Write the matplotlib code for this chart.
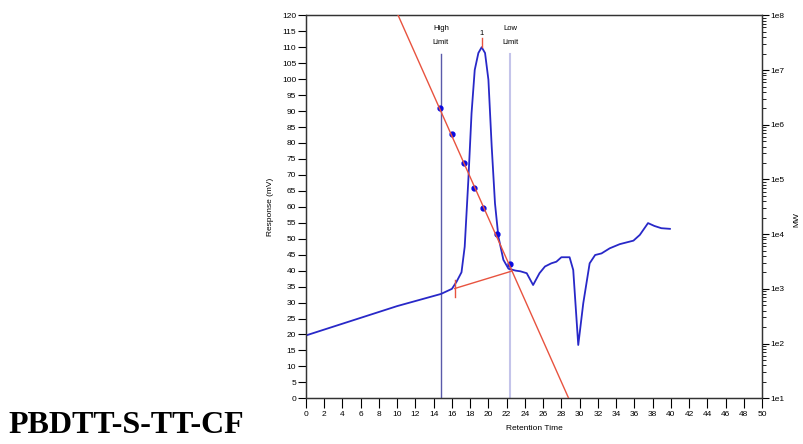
import matplotlib
matplotlib.use("Agg")
import matplotlib.pyplot as plt
import matplotlib.ticker as mticker
import numpy as np

# ---- data ----
sig_t = [0, 5, 10, 14.8, 16.0, 16.5, 17.05, 17.4, 17.8, 18.15, 18.5, 18.9,
         19.26, 19.63, 20.0, 20.36, 20.72, 21.09, 21.64, 22.2, 23.0, 23.5,
         24.2, 24.9, 25.6, 26.2, 26.9, 27.45, 28.0, 28.9, 29.3, 29.85, 30.4, 31.1,
         31.7, 32.4, 33.3, 34.4, 35.9, 36.6, 37.5, 38.2, 38.96, 39.9]
sig_mv = [19.7, 24.3, 28.9, 32.7, 34.3, 36.5, 39.5, 47.5, 68.4, 89.3, 102.9, 108.2,
          110.0, 108.2, 99.8, 78.9, 61.1, 50.7, 43.4, 40.6, 40.0, 39.8,
          39.2, 35.5, 39.2, 41.3, 42.3, 42.8, 44.2, 44.2, 40.2, 16.7, 29.8, 42.3,
          44.9, 45.4, 47.0, 48.3, 49.4, 51.2, 54.9, 54.0, 53.3, 53.1]

cal_pts_t = [14.73, 15.97, 17.32, 18.42, 19.4, 20.94, 22.37]
cal_pts_mv = [90.9, 82.7, 73.6, 65.8, 59.6, 51.5, 42.0]

cal_line_t = [10.1, 28.8]
cal_line_mw = [1e8, 1e1]

base_t = [16.3, 22.5]
base_mv = [34.4, 39.8]

high_limit = 14.8
low_limit = 22.37
peak_t = 19.26
peak_mv = 110.0

xticks = list(range(0, 51, 2))
yticks = list(range(0, 121, 5))
mw_ticks = [1e1, 1e2, 1e3, 1e4, 1e5, 1e6, 1e7, 1e8]
mw_labels = ["1e1", "1e2", "1e3", "1e4", "1e5", "1e6", "1e7", "1e8"]

# ---- figure ----
fig = plt.figure(figsize=(8.04, 4.44), dpi=100)
ax = fig.add_axes([0.3806, 0.1029, 0.5672, 0.8626])
ax2 = ax.twinx()

tick_font = dict(family=["Liberation Sans", "DejaVu Sans"], size=6)

ax.set_xlim(0, 50)
ax.set_ylim(0, 120)
ax2.set_yscale("log")
ax2.set_ylim(1e1, 1e8)

# limits
ax.plot([high_limit, high_limit], [0, 108], color="#5a5aaa", lw=1.0, zorder=2)
ax.plot([low_limit, low_limit], [0, 108], color="#c4c4ea", lw=1.5, zorder=2)

# calibration line (on MW axis)
ax2.plot(cal_line_t, cal_line_mw, color="#e8533f", lw=1.0, zorder=3, clip_on=True)

# signal
ax.plot(sig_t, sig_mv, color="#2828c8", lw=1.3, zorder=4)

# baseline
ax.plot(base_t, base_mv, color="#e8533f", lw=1.0, zorder=5)
ax.plot([base_t[0], base_t[0]], [base_mv[0] - 2.8, base_mv[0] + 2.8], color="#e8533f", lw=1.0, zorder=5)
ax.plot([peak_t, peak_t], [peak_mv, peak_mv + 3], color="#e8533f", lw=1.0, zorder=5)

# calibration points
ax.plot(cal_pts_t, cal_pts_mv, "o", color="#0a0ae0", ms=3.5, zorder=6)

# annotations
txt = dict(family=["Liberation Sans", "DejaVu Sans"], size=5.5, ha="center", va="center")
ax.text(high_limit, 115.8, "High", **txt)
ax.text(high_limit, 111.4, "Limit", **txt)
ax.text(low_limit, 115.8, "Low", **txt)
ax.text(low_limit, 111.4, "Limit", **txt)
ax.text(peak_t, 114.2, "1", **txt)

# ticks
ax.set_xticks(xticks)
ax.set_yticks(yticks)
ax.set_xticklabels([str(v) for v in xticks], **tick_font)
ax.set_yticklabels([str(v) for v in yticks], **tick_font)
ax.tick_params(axis="x", direction="out", length=7, width=0.8, pad=2)
ax.tick_params(axis="y", direction="out", length=6, width=0.8, pad=1)

ax2.yaxis.set_major_locator(mticker.FixedLocator(mw_ticks))
ax2.yaxis.set_major_formatter(mticker.FixedFormatter(mw_labels))
ax2.yaxis.set_minor_locator(mticker.LogLocator(base=10, subs=np.arange(2, 10)))
ax2.yaxis.set_minor_formatter(mticker.NullFormatter())
for lab in ax2.get_yticklabels():
    lab.set_family(["Liberation Sans", "DejaVu Sans"])
    lab.set_size(6)
ax2.tick_params(axis="y", which="major", direction="out", length=5, width=0.8, pad=1)
ax2.tick_params(axis="y", which="minor", direction="out", length=3, width=0.6)

for a in (ax, ax2):
    for s in a.spines.values():
        s.set_linewidth(0.9)
        s.set_color("#333333")

lab_font = dict(family=["Liberation Sans", "DejaVu Sans"], size=6)
ax.set_ylabel("Response (mV)", labelpad=6, **lab_font)
ax.set_xlabel("Retention Time", labelpad=5, **lab_font)
fig.text(0.995, 0.505, "MW", rotation=90, ha="right", va="center", **lab_font)

fig.text(0.01, 0.008, "PBDTT-S-TT-CF", family=["Liberation Serif", "DejaVu Serif"],
         weight="bold", size=23, ha="left", va="bottom")

fig.savefig("out.png", dpi=100)
